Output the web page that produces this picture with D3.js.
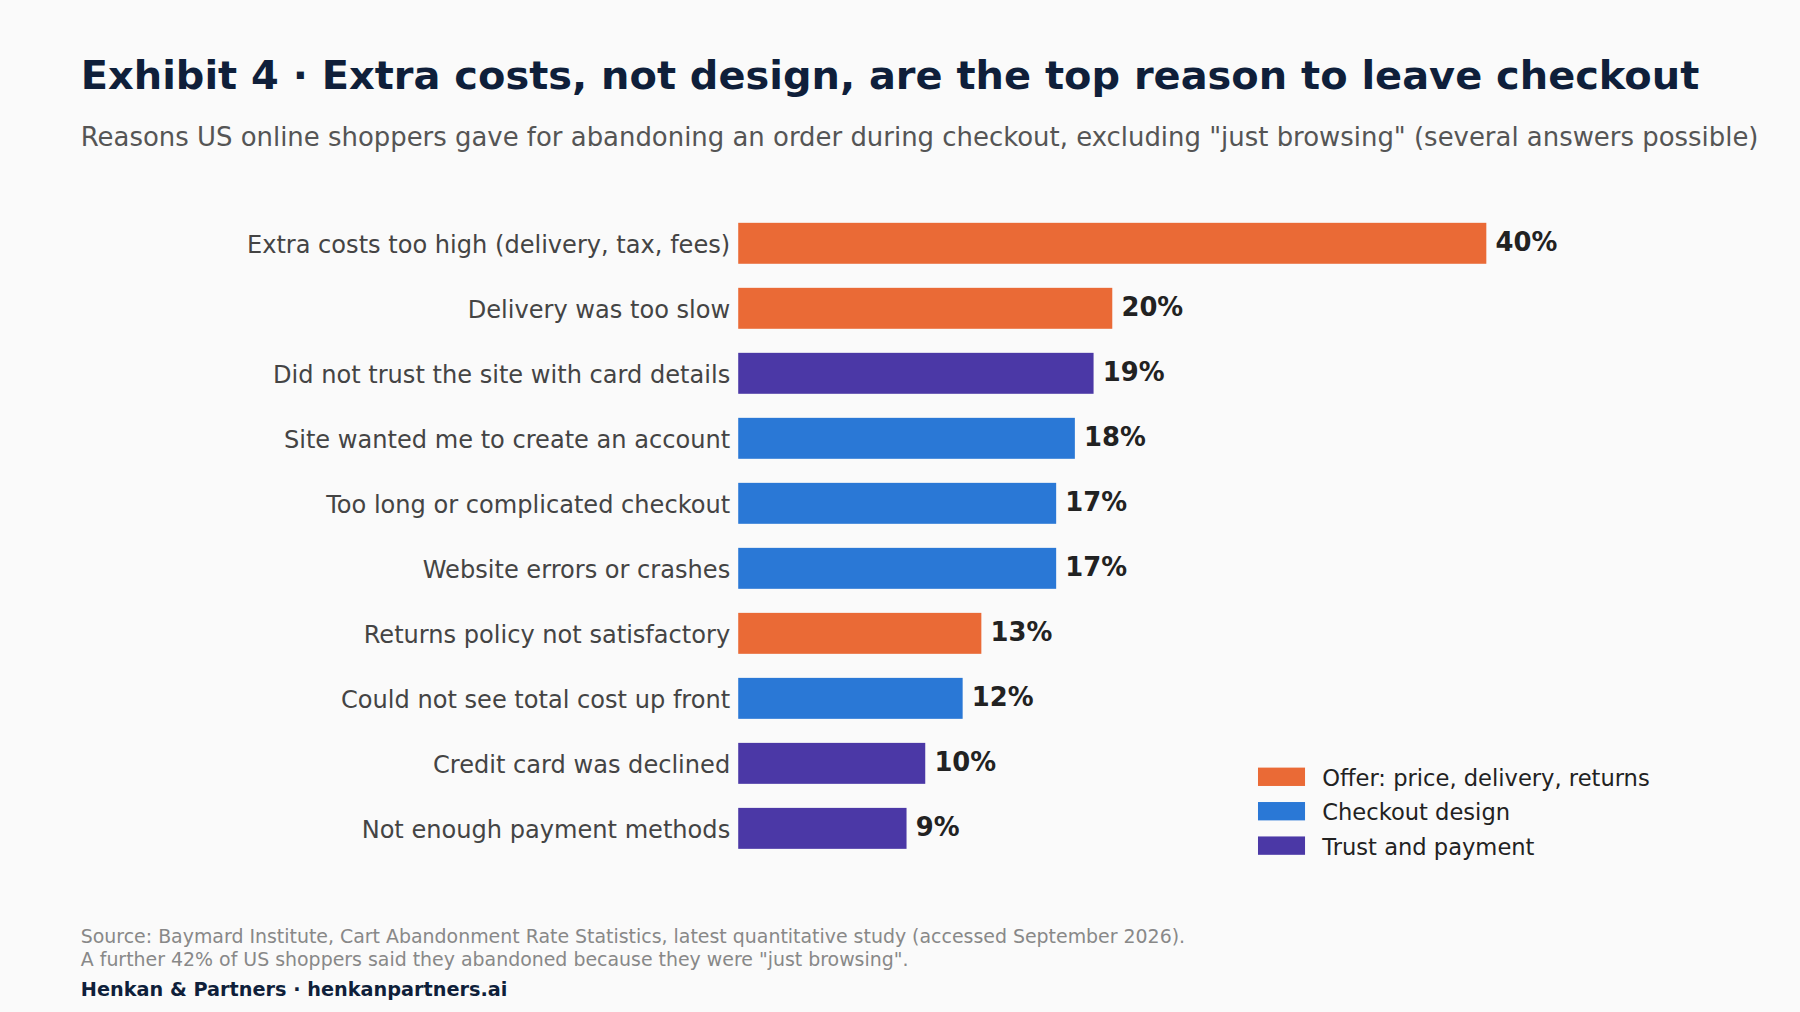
<!DOCTYPE html>
<html><head><meta charset="utf-8">
<script src="https://cdn.jsdelivr.net/npm/d3@7"></script>
<style>html,body{margin:0;padding:0;background:#fafafa;}svg{display:block;font-family:"DejaVu Sans",sans-serif;}</style>
</head><body>
<script>
const categories = ["Extra costs too high (delivery, tax, fees)","Delivery was too slow","Did not trust the site with card details","Site wanted me to create an account","Too long or complicated checkout","Website errors or crashes","Returns policy not satisfactory","Could not see total cost up front","Credit card was declined","Not enough payment methods"];
const values = [40,20,19,18,17,17,13,12,10,9];
const groups = ["Offer","Offer","Trust","Checkout","Checkout","Checkout","Offer","Checkout","Trust","Trust"];
const groupKeys = ["Offer","Checkout","Trust"];
const groupLabels = ["Offer: price, delivery, returns","Checkout design","Trust and payment"];
const groupColors = ["#EA6A36","#2A78D6","#4B38A6"];

const svg = d3.select("body").append("svg").attr("width",1800).attr("height",1012).attr("viewBox","0 0 1568 882");
svg.append("rect").attr("width",1568).attr("height",882).attr("fill","#fafafa");
svg.append("text").attr("x",70).attr("y",78).attr("font-size",34.8).attr("font-weight","bold").attr("fill","#0f1f3a").text("Exhibit 4 · Extra costs, not design, are the top reason to leave checkout");
svg.append("text").attr("x",70).attr("y",127).attr("font-size",22.6).attr("fill","#555").text("Reasons US online shoppers gave for abandoning an order during checkout, excluding \"just browsing\" (several answers possible)");

const x = d3.scaleLinear().domain([0,40]).range([643,1295]);
const y = d3.scaleBand().domain(categories).range([184,750]).paddingInner(0.37).paddingOuter(0.18);
const color = d3.scaleOrdinal().domain(groupKeys).range(groupColors);

const g = svg.append("g");
categories.forEach((c,i)=>{
  g.append("rect").attr("x",x(0)).attr("y",y(c)).attr("width",x(values[i])-x(0)).attr("height",y.bandwidth()).attr("fill",color(groups[i]));
  g.append("text").attr("x",636).attr("y",y(c)+y.bandwidth()/2+1).attr("dy","0.35em").attr("text-anchor","end").attr("font-size",21).attr("fill","#444").text(c);
  g.append("text").attr("x",x(values[i])+8).attr("y",y(c)+y.bandwidth()/2-1).attr("dy","0.35em").attr("font-size",22.5).attr("font-weight","bold").attr("fill","#222").text(values[i]+"%");
});

groupKeys.forEach((k,i)=>{
  svg.append("rect").attr("x",1096).attr("y",669+i*30).attr("width",41).attr("height",16).attr("fill",groupColors[i]);
  svg.append("text").attr("x",1152).attr("y",678+i*30).attr("dy","0.35em").attr("font-size",19.7).attr("fill","#222").text(groupLabels[i]);
});

svg.append("text").attr("x",70).attr("y",822).attr("font-size",16.5).attr("fill","#888").text("Source: Baymard Institute, Cart Abandonment Rate Statistics, latest quantitative study (accessed September 2026).");
svg.append("text").attr("x",70).attr("y",842).attr("font-size",16.5).attr("fill","#888").text("A further 42% of US shoppers said they abandoned because they were \"just browsing\".");
svg.append("text").attr("x",70).attr("y",868).attr("font-size",16.8).attr("font-weight","bold").attr("fill","#0f1f3a").text("Henkan & Partners · henkanpartners.ai");
</script>
</body></html>
